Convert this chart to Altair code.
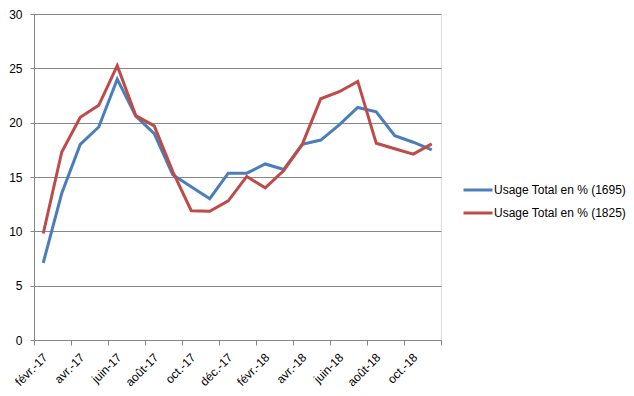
import altair as alt
import pandas as pd

months = ["févr.-17", "mars-17", "avr.-17", "mai-17", "juin-17", "juil.-17", "août-17",
          "sept.-17", "oct.-17", "nov.-17", "déc.-17", "janv.-18", "févr.-18", "mars-18",
          "avr.-18", "mai-18", "juin-18", "juil.-18", "août-18", "sept.-18", "oct.-18", "nov.-18"]
tick_labels = ["févr.-17", "avr.-17", "juin-17", "août-17", "oct.-17", "déc.-17",
               "févr.-18", "avr.-18", "juin-18", "août-18", "oct.-18", ""]
s1695 = [7.1, 13.5, 18.0, 19.6, 24.0, 20.6, 19.0, 15.2, 14.1, 13.0, 15.35, 15.35,
         16.2, 15.7, 18.0, 18.4, 19.8, 21.4, 21.0, 18.8, 18.2, 17.5]
s1825 = [9.8, 17.3, 20.5, 21.6, 25.25, 20.65, 19.7, 15.5, 11.9, 11.85, 12.8, 15.05,
         14.0, 15.6, 18.0, 22.2, 22.85, 23.8, 18.1, 17.6, 17.1, 18.05]
names = ["Usage Total  en % (1695)", "Usage Total  en % (1825)"]
colors = ["#4A7EBB", "#BE4B48"]

rows = []
for i, m in enumerate(months):
    rows.append({"idx": i + 0.5, "mois": m, "valeur": s1695[i], "serie": names[0]})
    rows.append({"idx": i + 0.5, "mois": m, "valeur": s1825[i], "serie": names[1]})
df = pd.DataFrame(rows)

label_arr = "[" + ",".join("'" + t + "'" for t in tick_labels) + "]"

chart = alt.Chart(df).mark_line(strokeWidth=3).encode(
    x=alt.X("idx:Q", title=None,
            scale=alt.Scale(domain=[0, len(months)], nice=False, zero=False),
            axis=alt.Axis(values=list(range(0, len(months) + 1, 2)),
                          labelExpr=label_arr + "[datum.value/2] || ''",
                          grid=False, labelAngle=-45, labelAlign="right",
                          labelBaseline="middle", labelOffset=11, labelPadding=10,
                          labelOverlap=False, labelBound=False,
                          tickSize=5, tickColor="#868686", domainColor="#868686",
                          labelFontSize=12, labelColor="#000000", labelFont="Liberation Sans")),
    y=alt.Y("valeur:Q", title=None,
            scale=alt.Scale(domain=[0, 30], nice=False),
            axis=alt.Axis(values=[0, 5, 10, 15, 20, 25, 30], grid=True,
                          gridColor="#868686", gridWidth=1, tickSize=4,
                          tickColor="#868686", domainColor="#868686",
                          labelPadding=8, labelFontSize=12, labelColor="#000000",
                          labelFont="Liberation Sans")),
    color=alt.Color("serie:N", title=None,
                    scale=alt.Scale(domain=names, range=colors),
                    legend=alt.Legend(orient="none", legendX=428, legendY=160,
                                      symbolType="stroke", symbolStrokeWidth=3,
                                      symbolSize=841, labelFontSize=12,
                                      labelFont="Liberation Sans", labelColor="#000000",
                                      labelOffset=0, rowPadding=1)),
    detail="serie:N",
).properties(
    width=407, height=326,
    autosize=alt.AutoSizeParams(type="none"),
    padding={"left": 26, "top": 6, "right": 185, "bottom": 48},
).configure_view(strokeWidth=0).configure(background="white")

chart.save("out.html", embed_options={"renderer": "svg", "actions": False})
